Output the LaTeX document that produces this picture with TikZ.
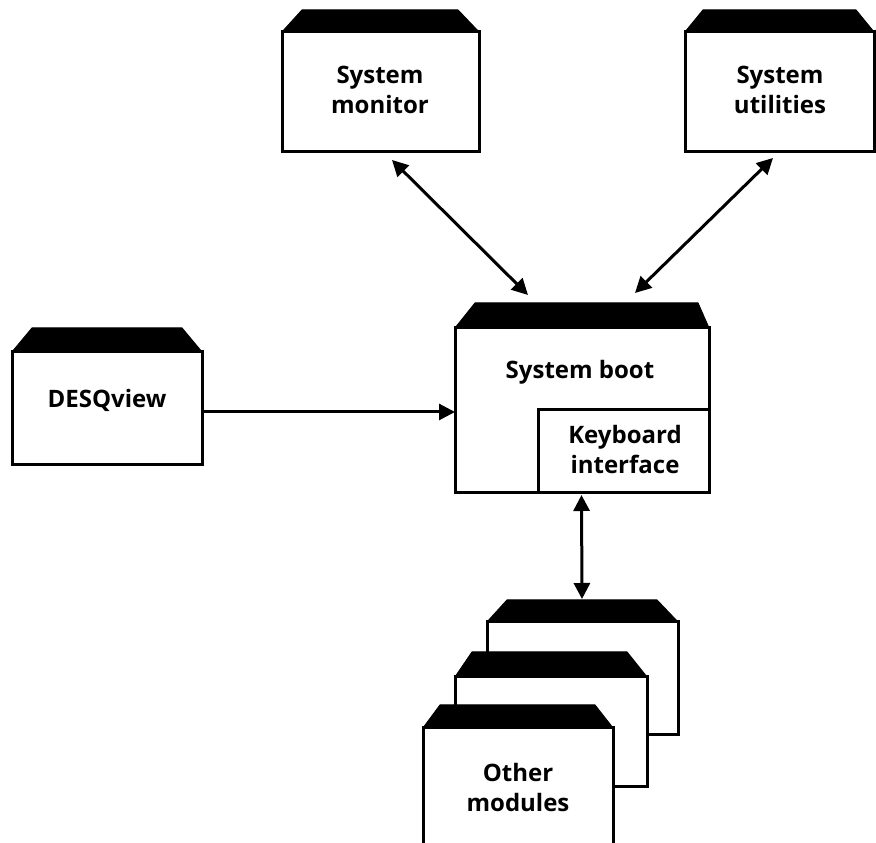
\documentclass[tikz,border=0pt]{standalone}
\usepackage{fontspec}
\setmainfont{Open Sans}
\usetikzlibrary{arrows.meta,calc}
\newcommand\tabbox[8]{% name, x1, ytop, x2, ybot, tabtop, slantL, slantR (pixel coords, y down)
  \node[box, minimum width=#4-#2, minimum height=#5-#3, anchor=north west] (#1) at (#2, 843-#3) {};
  \filldraw[line width=1pt, line join=round] (#1.north west) -- ++(#7, #3-#6) -- ($(#1.north east)+(-#8,#3-#6)$) -- (#1.north east) -- cycle;
}
\begin{document}
\begin{tikzpicture}[x=1pt,y=1pt,
  box/.style={draw, line width=3pt, fill=white, rectangle, inner sep=0pt, outer sep=0pt},
  lbl/.style={font=\fontsize{24}{30}\selectfont\bfseries, align=center, inner sep=0pt},
  con/.style={line width=3pt, {Triangle[length=16pt,width=16pt]}-{Triangle[length=16pt,width=16pt]}},
  conR/.style={line width=3pt, -{Triangle[length=16pt,width=16pt]}},
  ]
\useasboundingbox (0,0) rectangle (876,843);

% top boxes
\tabbox{mon}{282}{32}{479}{152}{10}{20}{21}
\tabbox{util}{685}{32}{874}{152}{10}{18}{18}
\node[lbl] (monT) at (380, 843-90) {System\\monitor};
\node[lbl] (utilT) at (780, 843-90) {System\\utilities};

% system boot
\tabbox{boot}{455}{328}{709}{493}{303}{20}{11}
\node[box, minimum width=171, minimum height=83, anchor=south east] (kb) at (boot.south east) {};
\node[lbl] (bootT) at (580, 843-372) {System boot};
\node[lbl] (kbT) at (625, 843-450) {Keyboard\\interface};

% DESQview
\tabbox{desq}{12}{352}{202}{465}{328}{20}{20}
\node[lbl] (desqT) at (107, 843-400) {DESQview};

% other modules (stack)
\tabbox{oth3}{487}{622}{678}{735}{600}{20}{21}
\tabbox{oth2}{455}{677}{647}{787}{652}{17}{20}
\tabbox{oth1}{423}{728}{613}{850}{705}{17}{18}
\node[lbl] (othT) at (518, 843-788) {Other\\modules};

% connectors
\draw[con] ([xshift=11.5,yshift=-8]mon.south) -- ([xshift=-54,yshift=33]boot.north);
\draw[con] ([xshift=-6.5,yshift=-6]util.south) -- ([xshift=53,yshift=35]boot.north);
\draw[con] ([xshift=-0.5,yshift=-2]boot.south) -- ([xshift=-0.5,yshift=23]oth3.north);
\draw[conR] ([yshift=-3.5]desq.east) coordinate (d1) -- (d1 -| boot.west);
\end{tikzpicture}
\end{document}
